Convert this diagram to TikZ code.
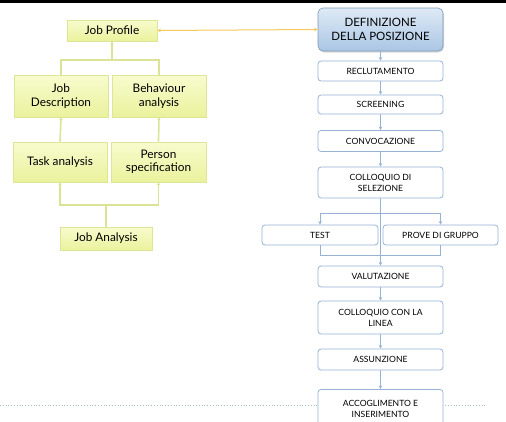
\documentclass[tikz,border=0pt]{standalone}
\usepackage{fontspec}
\setmainfont{Lato}
\usetikzlibrary{arrows.meta,shadows}

\definecolor{ytop}{RGB}{248,251,206}
\definecolor{ybot}{RGB}{234,242,156}
\definecolor{yedge}{RGB}{222,229,150}
\definecolor{yline}{RGB}{220,227,150}
\definecolor{bedge}{RGB}{149,179,215}
\definecolor{btop}{RGB}{222,234,246}
\definecolor{bbot}{RGB}{170,198,228}
\definecolor{bline}{RGB}{150,178,212}
\definecolor{olink}{RGB}{246,200,90}
\definecolor{dotc}{RGB}{170,186,206}

\tikzset{
  ybox/.style={draw=yedge, line width=0.6pt, top color=ytop, bottom color=ybot,
    align=center, font=\fontsize{11.8}{13.5}\selectfont, inner sep=1pt,
    drop shadow={shadow xshift=1pt, shadow yshift=-1pt, opacity=0.2}},
  bigbox/.style={draw=bedge!85!black, line width=0.6pt, rounded corners=5pt,
    top color=btop, bottom color=bbot, align=center,
    font=\fontsize{11.5}{13.5}\selectfont, minimum width=125pt, minimum height=43pt,
    drop shadow={shadow xshift=1pt, shadow yshift=-1.5pt, opacity=0.3}},
  sbox/.style={draw=bedge, line width=0.8pt, rounded corners=3pt, fill=white,
    align=center, font=\fontsize{8.6}{11}\selectfont, inner sep=1pt},
  yconn/.style={draw=yline, line width=1.6pt},
  yarr/.style={yconn, -{Stealth[length=3pt,width=3.5pt]}},
  bconn/.style={draw=bline, line width=0.8pt},
  barr/.style={bconn, -{Stealth[length=3.5pt,width=3.5pt]}}
}

\begin{document}
\begin{tikzpicture}[x=1pt,y=-1pt]
\useasboundingbox (0,0) rectangle (506,421);
\clip (0,0) rectangle (506,421);

% top bar
\fill[black] (0,0) rectangle (506,2.5);

% footer rule
\draw[dotc, dotted, line width=0.8pt] (0,405) -- (485,405);

% ---- job analysis tree ----
\node[ybox, minimum width=90pt, minimum height=21pt] (jp) at (112,30.5) {Job Profile};
\node[ybox, minimum width=94pt, minimum height=42pt] (jd) at (61,96) {Job\\Description};
\node[ybox, minimum width=94pt, minimum height=42pt] (ba) at (159,96) {Behaviour\\analysis};
\node[ybox, minimum width=94pt, minimum height=40pt] (ta) at (60,162) {Task analysis};
\node[ybox, minimum width=95pt, minimum height=40pt] (ps) at (158.5,162) {Person\\specification};
\node[ybox, minimum width=92pt, minimum height=23pt] (ja) at (106,238.5) {Job Analysis};

\coordinate (m1) at (112,60);
\draw[yconn] (jd.north) |- (m1) -| (ba.north);
\draw[yarr] (m1) -- (jp.south);
\draw[yarr] (ta.north) -- (jd.south);
\draw[yarr] (ps.north) -- (ba.south);
\coordinate (m2) at (106,205);
\draw[yconn] (ja.north) -- (m2);
\draw[yarr] (m2) -| (ta.south);
\draw[yarr] (m2) -| (ps.south);

% ---- selection process ----
\node[bigbox] (def) at (380.5,29.5) {DEFINIZIONE\\DELLA POSIZIONE};
\node[sbox, minimum width=125pt, minimum height=20pt] (rec) at (380.5,71) {RECLUTAMENTO};
\node[sbox, minimum width=125pt, minimum height=19pt] (scr) at (380.5,104.5) {SCREENING};
\node[sbox, minimum width=125pt, minimum height=21pt] (conv) at (380.5,141) {CONVOCAZIONE};
\node[sbox, minimum width=125pt, minimum height=31pt] (coll) at (380.5,182.5) {COLLOQUIO DI\\SELEZIONE};
\node[sbox, minimum width=116pt, minimum height=20pt] (test) at (320,235) {TEST};
\node[sbox, minimum width=115pt, minimum height=20pt] (prove) at (440.5,235) {PROVE DI GRUPPO};
\node[sbox, minimum width=125pt, minimum height=21pt] (val) at (380.5,276.5) {VALUTAZIONE};
\node[sbox, minimum width=125pt, minimum height=33pt] (colin) at (380.5,317.5) {COLLOQUIO CON LA\\LINEA};
\node[sbox, minimum width=125pt, minimum height=21pt] (ass) at (380.5,359.5) {ASSUNZIONE};
\node[sbox, minimum width=125pt, minimum height=38pt] (acc) at (380.5,408.5) {ACCOGLIMENTO E\\INSERIMENTO};

\draw[barr] (def.south) -- (rec.north);
\draw[barr] (rec.south) -- (scr.north);
\draw[barr] (scr.south) -- (conv.north);
\draw[barr] (conv.south) -- (coll.north);
\draw[barr] (coll.south) -- (val.north);
\coordinate (b1) at (380.5,213);
\draw[barr] (b1) -| (test.north);
\draw[barr] (b1) -| (prove.north);
\draw[bconn] (test.south) -- ++(0,10) -| (prove.south);
\draw[barr] (val.south) -- (colin.north);
\draw[barr] (colin.south) -- (ass.north);
\draw[barr] (ass.south) -- (acc.north);

% link between the two columns
\draw[olink, line width=1pt, {Stealth[length=3.5pt,width=3.5pt]}-{Stealth[length=3.5pt,width=3.5pt]}] (jp.east) -- (def.west);
\end{tikzpicture}
\end{document}
